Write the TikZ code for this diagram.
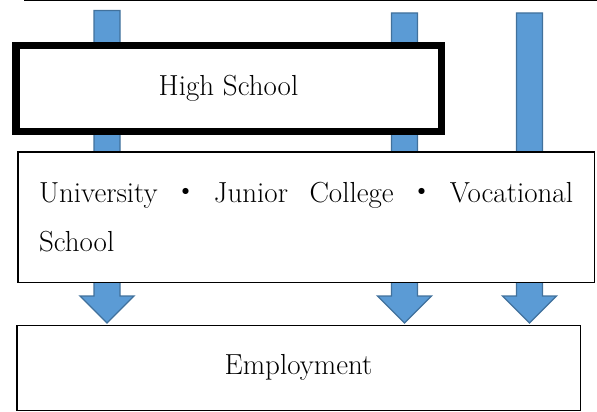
\documentclass[tikz,border=0pt]{standalone}
\usepackage{fontspec}
\newfontfamily\cjk{Noto Sans CJK JP}
\definecolor{arrfill}{HTML}{5B9BD5}
\definecolor{arrdraw}{HTML}{41719C}
\newcommand{\gl}{\hspace{0pt plus 1fill}}
\begin{document}
\begin{tikzpicture}[x=1pt,y=-1pt,
  box/.style={draw=black, fill=white, line width=1.5pt, inner sep=0pt},
  blockarrow/.style={fill=arrfill, draw=arrdraw, line width=1.3pt, line join=miter},
  lbl/.style={font=\fontsize{29}{49}\selectfont}]
\useasboundingbox (0,0) rectangle (597,412);
\coordinate (rs) at (24,0.8);
\coordinate (re) at (597,0.8);
\draw[line width=1.2pt] (rs) -- (re);
% block arrows (behind the boxes)
\foreach \cx/\tp in {107/10.5,404.5/13,529.5/13} {
  \draw[blockarrow] (\cx-13,\tp) -- (\cx+13,\tp) -- (\cx+13,296) -- (\cx+27,296)
     -- (\cx,323) -- (\cx-27,296) -- (\cx-13,296) -- cycle;
}
\node[box, line width=7.5pt, minimum width=425.5pt, minimum height=85.5pt, lbl]
  (hs) at (228.5,88.5) {High School};
\node[box, minimum width=576.5pt, minimum height=130.5pt, lbl, text width=534pt, align=left]
  (univ) at (306,217) {University\gl{\cjk ・}\gl Junior\hspace{8pt plus 1fill}College\gl{\cjk ・}\gl Vocational\\School};
\node[box, minimum width=563.5pt, minimum height=85pt, lbl]
  (emp) at (298.5,367.75) {Employment};
\end{tikzpicture}
\end{document}
